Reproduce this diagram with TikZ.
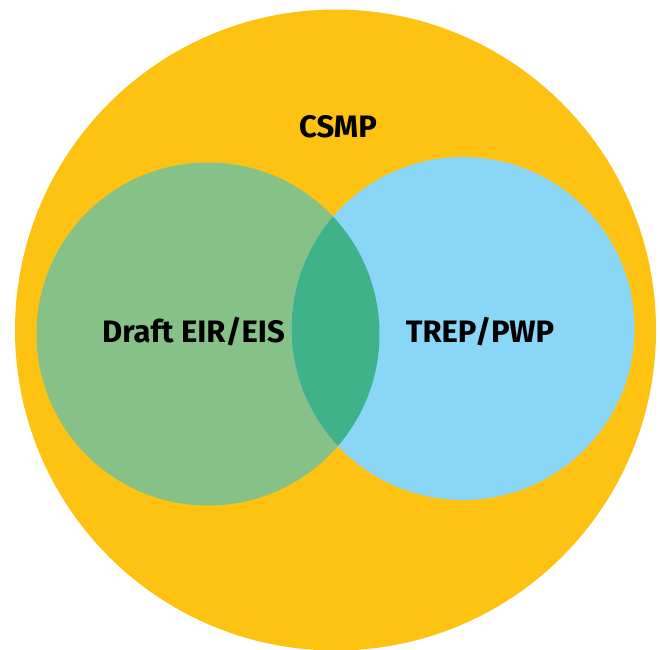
\documentclass[tikz,border=0pt]{standalone}
\usepackage{fontspec}
\setsansfont{Fira Sans}
\definecolor{csmpyellow}{HTML}{FEC312}
\definecolor{eirgreen}{HTML}{86C188}
\definecolor{trepblue}{HTML}{89D6F6}
\definecolor{overlapgreen}{HTML}{3FB28A}
\tikzset{
  label text/.style={font=\sffamily\bfseries\fontsize{31}{36}\selectfont, text=black, inner sep=0pt}
}
\begin{document}
\begin{tikzpicture}[x=1pt, y=-1pt]
  \useasboundingbox (0,0) rectangle (660,649);
  % outer set
  \fill[csmpyellow] (335.5,330) circle (320.5);
  % the two inner sets
  \fill[eirgreen] (208,334) circle (171.5);
  \fill[trepblue] (463,328.5) circle (171.5);
  % their overlap
  \begin{scope}
    \clip (208,334) circle (171.5);
    \fill[overlapgreen] (463,328.5) circle (171.5);
  \end{scope}
  \node[label text] (csmp) at (338,127) {CSMP};
  \node[label text] (eir) at (193.5,332) {Draft EIR/EIS};
  \node[label text] (trep) at (480,332) {TREP/PWP};
\end{tikzpicture}
\end{document}
